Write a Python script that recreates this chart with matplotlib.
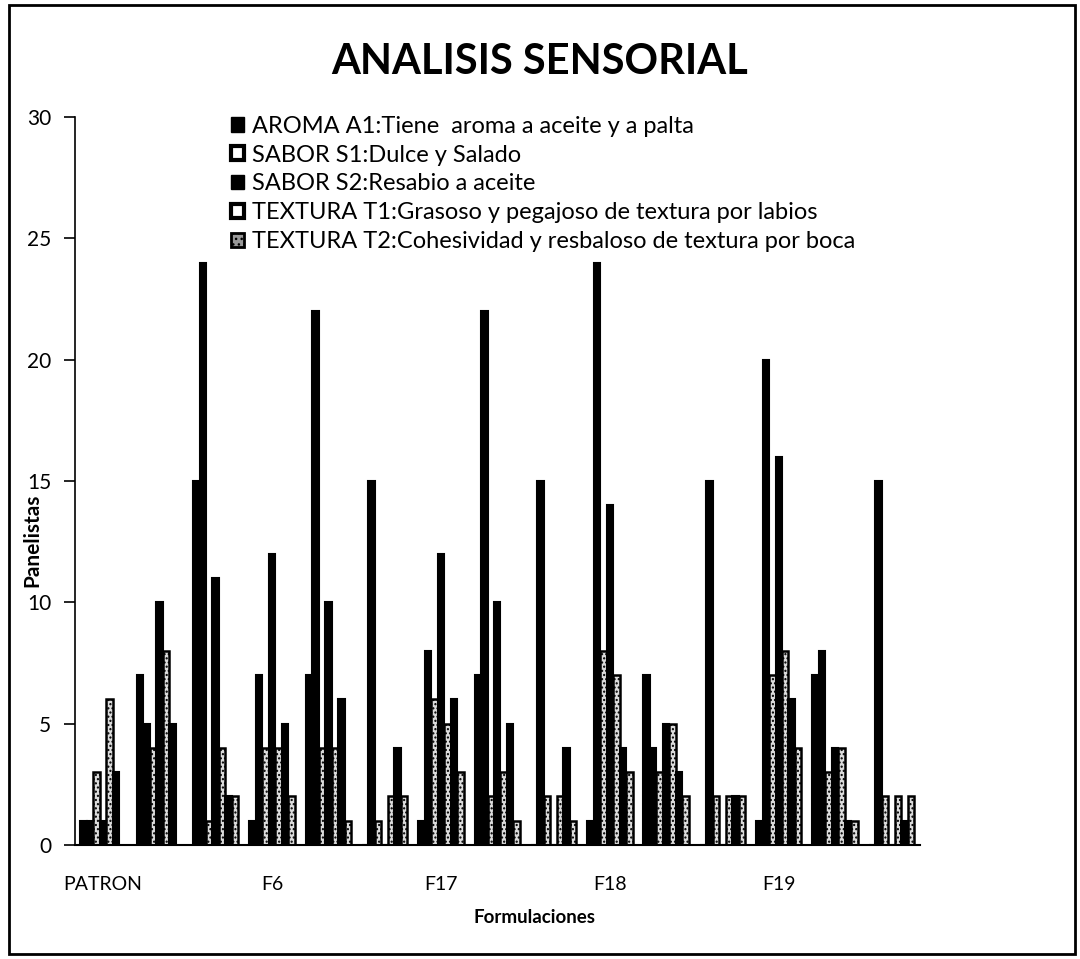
import numpy as np
import matplotlib
matplotlib.use("Agg")
from matplotlib import pyplot as plt
from matplotlib.patches import Patch, Rectangle

plt.rcParams['font.family'] = ['Lato', 'DejaVu Sans']

# 15 columnas, solo cada tercera lleva nombre
categorias = ['PATRON', '', '', 'F6', '', '', 'F17', '', '', 'F18', '', '', 'F19', '', '']

# valores (panelistas), una lista por barra del grupo
serie1 = [1, 7, 15, 1, 7, 0, 1, 7, 0, 1, 7, 0, 1, 7, 0]
serie2 = [1, 5, 24, 7, 22, 15, 8, 22, 15, 24, 4, 15, 20, 8, 15]
serie3 = [3, 4, 1, 4, 4, 1, 6, 2, 2, 8, 3, 2, 7, 3, 2]
serie4 = [1, 10, 11, 12, 10, 0, 12, 10, 0, 14, 5, 0, 16, 4, 0]
serie5 = [6, 8, 4, 4, 4, 2, 5, 3, 2, 7, 5, 2, 8, 4, 2]
serie6 = [3, 5, 2, 5, 6, 4, 6, 5, 4, 4, 3, 2, 6, 1, 1]
serie7 = [0, 0, 2, 2, 1, 2, 3, 1, 1, 3, 2, 2, 4, 1, 2]

leyenda = ['AROMA A1:Tiene  aroma a aceite y a palta',
           'SABOR S1:Dulce y Salado',
           'SABOR S2:Resabio a aceite',
           'TEXTURA T1:Grasoso y pegajoso de textura por labios',
           'TEXTURA T2:Cohesividad y resbaloso de textura por boca']

series = [serie1, serie2, serie3, serie4, serie5, serie6, serie7]
oscura = [True, True, False, True, False, True, False]

fig = plt.figure(figsize=(10.8, 9.59), dpi=100)
ax = fig.add_axes([0.0694, 0.1189, 0.782, 0.759])

x = np.arange(len(categorias))
w = 0.115
for k, vals in enumerate(series):
    pos = x + (k - 3) * w
    if oscura[k]:
        ax.bar(pos, vals, w, color='black', edgecolor='black', linewidth=1.5)
    else:
        ax.bar(pos, vals, w, facecolor='#dcdcdc', edgecolor='black',
               hatch='....', linewidth=1.8)

ax.set_xlim(-0.5, len(categorias) - 0.5)
ax.set_ylim(0, 30)
ax.set_yticks(range(0, 31, 5))
ax.set_xticks(x)
ax.set_xticklabels(categorias, fontsize=14)
ax.tick_params(axis='x', length=0, pad=22)
ax.tick_params(axis='y', labelsize=15, length=8, width=1.2, pad=9)
for s in ['top', 'right']:
    ax.spines[s].set_visible(False)
ax.spines['left'].set_linewidth(1.2)
ax.spines['bottom'].set_linewidth(1.5)

fig.text(0.495, 0.043, 'Formulaciones', fontsize=13.5, fontweight='bold',
         ha='center', va='center')
fig.text(0.03, 0.437, 'Panelistas', rotation=90, fontsize=15,
         fontweight='bold', ha='center', va='center')

fig.text(0.5, 0.935, 'ANALISIS SENSORIAL', fontsize=30, fontweight='bold',
         ha='center', va='center')

handles = [Patch(facecolor='black', edgecolor='black'),
           Patch(facecolor='white', edgecolor='black', linewidth=3),
           Patch(facecolor='black', edgecolor='black'),
           Patch(facecolor='white', edgecolor='black', linewidth=3),
           Patch(facecolor='#999999', edgecolor='black', hatch='...', linewidth=2)]
fig.legend(handles, leyenda, loc='upper left', bbox_to_anchor=(0.205, 0.889),
           frameon=False, fontsize=17, handlelength=0.55, handleheight=0.55,
           handletextpad=0.35, labelspacing=0.33, borderaxespad=0)

fig.patches.append(Rectangle((0.008, 0.005), 0.987, 0.99, transform=fig.transFigure,
                             fill=False, edgecolor='black', linewidth=2))

fig.savefig('out.png', dpi=100)
